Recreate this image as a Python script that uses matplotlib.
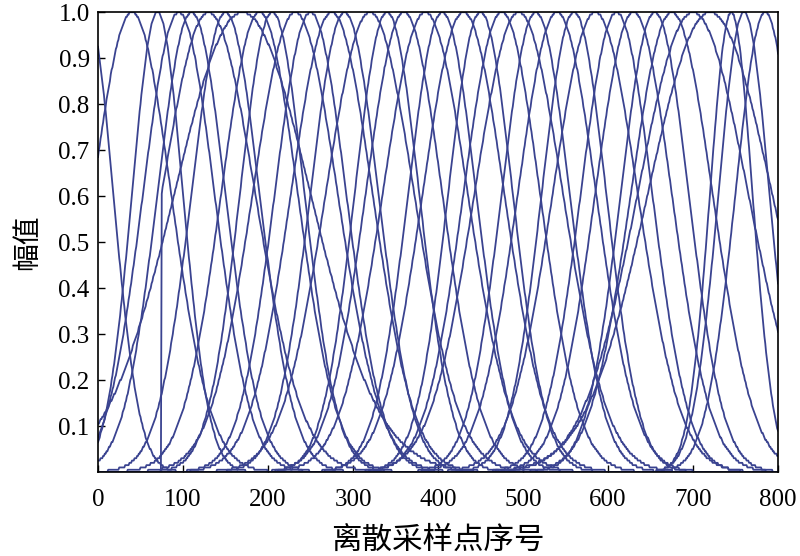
import numpy as np
import matplotlib
matplotlib.use('Agg')
import matplotlib.pyplot as plt

# Peak position, width and first sample of each basis curve
centers = [-12, 40, 70, 95, 110, 130, 150, 170, 190, 205, 232, 250, 275, 290, 320, 340, 360, 385,
           405, 430, 450, 475, 495, 515, 540, 560, 585, 610, 630, 655, 675, 700, 720, 745, 760, 785]
widths = [30, 46, 30, 42, 40, 55, 40, 80, 45, 38, 50, 42, 48, 40, 52, 38, 45, 50,
          40, 48, 38, 45, 52, 40, 46, 38, 50, 42, 45, 40, 48, 65, 73, 25, 30, 35]
starts = [0, 0, 0, 0, 0, 75, 0, 0, 0, 0, 0, 0, 0, 0, 0, 0, 0, 0,
          0, 0, 0, 0, 0, 0, 0, 0, 0, 0, 0, 0, 0, 0, 0, 0, 0, 0]

n_samples = 800
x_ticks = [0, 100, 200, 300, 400, 500, 600, 700, 800]
y_ticks = [0.1, 0.2, 0.3, 0.4, 0.5, 0.6, 0.7, 0.8, 0.9, 1.0]

serif = ['Liberation Serif', 'Noto Sans CJK SC']
cjk = ['Noto Sans CJK SC', 'Liberation Serif']
line_color = '#3a4390'

fig = plt.figure(figsize=(8, 5.56), dpi=100)
ax = fig.add_axes([0.1225, 0.151, 0.85, 0.827])

n = np.arange(n_samples + 1)
for c, w, s in zip(centers, widths, starts):
    y = np.exp(-(n - c) ** 2 / (2.0 * w ** 2))
    # quantise a little, the original curves are slightly stepped
    y = np.round(y * 200) / 200
    y[n < s] = 0.0
    ax.plot(n, y, color=line_color, linewidth=1.3)

ax.set_xlim(0, n_samples)
ax.set_ylim(0, 1.0)
ax.set_xticks(x_ticks)
ax.set_yticks(y_ticks)
ax.set_xticklabels([str(t) for t in x_ticks], family=serif, fontsize=18)
ax.set_yticklabels([f'{t:.1f}' for t in y_ticks], family=serif, fontsize=18)
ax.tick_params(axis='x', direction='in', length=5, width=1, pad=12)
ax.tick_params(axis='y', direction='in', length=5, width=1, pad=6)

ax.set_xlabel('离散采样点序号', family=cjk, fontsize=22, labelpad=10)
ax.set_ylabel('幅值', family=cjk, fontsize=20, labelpad=12)

for spine in ax.spines.values():
    spine.set_linewidth(1.2)

fig.savefig('out.png', dpi=100)
